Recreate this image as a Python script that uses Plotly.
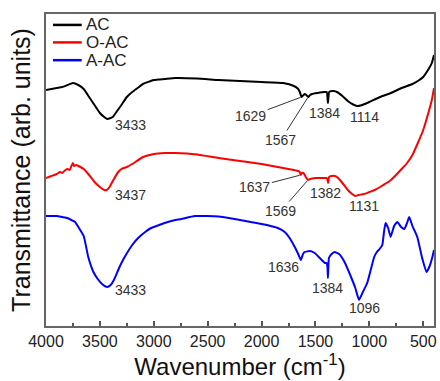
import plotly.graph_objects as go

# Wavenumber (cm-1) and offset transmittance (arb. units)
ac_wn = [4000, 3900, 3850, 3800, 3750, 3700, 3650, 3600, 3550, 3500, 3460, 3433, 3400, 3380, 3340, 3300, 3250,
         3200, 3150, 3100, 3000, 2900, 2800, 2600, 2400, 2200, 2000, 1800, 1700, 1660, 1645, 1629, 1610, 1600,
         1585, 1567, 1550, 1530, 1480, 1420, 1395, 1384, 1373, 1350, 1330, 1300, 1250, 1200, 1150, 1114, 1080,
         1000, 900, 800, 700, 600, 550, 500, 450, 420, 400]
ac_t = [236, 238, 239, 241, 243, 241, 237, 229, 221, 213, 209, 207, 208, 209, 215, 221, 229,
        234, 238, 242, 246, 247, 248, 247.5, 246, 245, 244, 243, 240, 237, 234, 229, 231, 232,
        231, 229, 231, 232, 233, 234, 234, 223, 234, 235, 235, 234, 230, 225, 221.5, 220, 220.5,
        224, 229, 233, 238, 242, 245, 249, 257, 263, 271]

oac_wn = [4000, 3950, 3900, 3870, 3850, 3820, 3800, 3780, 3760, 3750, 3740, 3720, 3700, 3650, 3600, 3550, 3500,
          3460, 3437, 3410, 3380, 3330, 3300, 3250, 3200, 3100, 3000, 2900, 2800, 2600, 2400, 2200, 2000, 1800,
          1700, 1660, 1645, 1637, 1625, 1610, 1590, 1569, 1550, 1500, 1450, 1400, 1390, 1382, 1374, 1350, 1320,
          1290, 1250, 1200, 1160, 1131, 1100, 1050, 1000, 950, 900, 800, 700, 650, 600, 550, 500, 450, 420, 400]
oac_t = [148, 150, 152, 154, 153, 156, 157, 156, 161, 163, 160, 161, 160, 157, 151, 144, 139,
         136, 136, 139, 145, 154, 157, 159, 162, 169, 172, 173, 173, 171.5, 168, 165, 162, 158,
         156, 155, 154, 151, 153, 153, 149, 146, 147, 148, 148, 148, 147, 143, 149, 150, 150,
         148, 143, 136, 132, 130, 131, 132, 134, 136, 139, 146, 157, 163, 171, 183, 196, 214, 226, 238]

aac_wn = [4000, 3900, 3850, 3800, 3766, 3730, 3700, 3650, 3608, 3560, 3520, 3480, 3433, 3400, 3370, 3330, 3300,
          3270, 3200, 3145, 3080, 3025, 2950, 2900, 2800, 2745, 2620, 2400, 2250, 2100, 1950, 1850, 1785, 1740,
          1692, 1660, 1636, 1615, 1600, 1550, 1507, 1460, 1413, 1395, 1388, 1384, 1380, 1375, 1350, 1322, 1280,
          1230, 1170, 1130, 1096, 1060, 1020, 985, 955, 930, 905, 880, 865, 850, 825, 803, 770, 740, 705, 675,
          650, 630, 600, 555, 510, 470, 440, 415, 400]
aac_t = [110, 110, 109, 108, 106, 104, 99, 90, 69, 54, 47, 42, 39, 41, 46, 56, 63,
         69, 81, 88, 94, 98, 101, 103, 106, 107, 110, 109.5, 107, 104, 101, 98, 94, 88,
         79, 72, 66, 72, 74, 75, 73, 68, 63, 63, 58, 48, 60, 68, 72, 74, 72,
         64, 49, 38, 26, 34, 43, 57, 69, 74, 77, 81, 93, 103, 98, 89, 100, 104, 99, 97,
         103, 109, 100, 89, 68, 54, 60, 69, 76]

series_names = ["AC", "O-AC", "A-AC"]
series_colors = ["#000000", "#ff0000", "#0000ff"]

x_tickvals = [4000, 3500, 3000, 2500, 2000, 1500, 1000, 500]

# peak labels: (text, label x, label y, arrow target x, arrow target y or None)
peak_labels = [
    ("3433", 3219, 201, None, None),
    ("1629", 2100, 210, 1629, 229),
    ("1567", 1821, 186, 1567, 229),
    ("1384", 1413, 213, None, None),
    ("1114", 1043, 209, None, None),
    ("3437", 3219, 131, None, None),
    ("1637", 2062, 139, 1637, 151),
    ("1569", 1821, 115, 1569, 146),
    ("1382", 1404, 133, None, None),
    ("1131", 1053, 120, None, None),
    ("3433", 3219, 36, None, None),
    ("1636", 1801, 59, None, None),
    ("1384", 1385, 38, None, None),
    ("1096", 1043, 18, None, None),
]

LABEL_FONT = dict(family="Arial, Liberation Sans", size=14, color="#333333")

fig = go.Figure()
for name, xs, ys, col in zip(series_names, [ac_wn, oac_wn, aac_wn], [ac_t, oac_t, aac_t], series_colors):
    fig.add_trace(go.Scatter(x=xs, y=ys, mode="lines", name=name, showlegend=False,
                             line=dict(color=col, width=2, shape="spline", smoothing=0.4)))

annotations = []
for text, lx, ly, tx, ty in peak_labels:
    if tx is None:
        annotations.append(dict(x=lx, y=ly, text=text, showarrow=False, xref="x", yref="y", font=LABEL_FONT))
    else:
        annotations.append(dict(x=tx, y=ty, ax=lx, ay=ly, axref="x", ayref="y", xref="x", yref="y",
                                text=text, showarrow=True, arrowhead=0, arrowwidth=1, arrowcolor="#333333",
                                standoff=1, font=LABEL_FONT))

# compact legend drawn in paper coordinates (key line + label per series)
shapes = []
legend_rows = [0.965, 0.909, 0.852]
for name, col, yr in zip(series_names, series_colors, legend_rows):
    shapes.append(dict(type="line", xref="paper", yref="paper", x0=0.018, x1=0.092, y0=yr, y1=yr,
                       line=dict(color=col, width=2.5)))
    annotations.append(dict(x=0.099, y=yr, xref="paper", yref="paper", text=name, showarrow=False,
                            xanchor="left", yanchor="middle",
                            font=dict(family="Arial, Liberation Sans", size=17, color="#222222")))

fig.update_layout(
    width=440, height=381,
    margin=dict(l=46, r=3, t=14, b=55),
    paper_bgcolor="white", plot_bgcolor="white",
    font=dict(family="Arial, Liberation Sans", color="#000000"),
    showlegend=False,
    annotations=annotations,
    shapes=shapes,
    xaxis=dict(range=[4000, 400], tickvals=x_tickvals, ticks="inside", ticklen=5, tickwidth=1.5,
               tickcolor="#555555", showgrid=False, zeroline=False,
               showline=True, linecolor="#666666", linewidth=2, mirror=True,
               tickfont=dict(size=16, color="#222222"),
               minor=dict(dtick=250, ticks="inside", ticklen=3, tickwidth=1.5, tickcolor="#555555",
                          showgrid=False),
               title=dict(text="Wavenumber (cm<sup>-1</sup>)", font=dict(size=24, color="#111111"), standoff=6)),
    yaxis=dict(range=[0, 312], showticklabels=False, ticks="", showgrid=False, zeroline=False,
               showline=True, linecolor="#666666", linewidth=2, mirror=True,
               title=dict(text="Transmittance (arb. units)", font=dict(size=25, color="#111111"), standoff=6)),
)

fig.write_html("out.html", config={"displayModeBar": False},
               post_script="document.body.style.margin='0';document.body.style.overflow='hidden';")
